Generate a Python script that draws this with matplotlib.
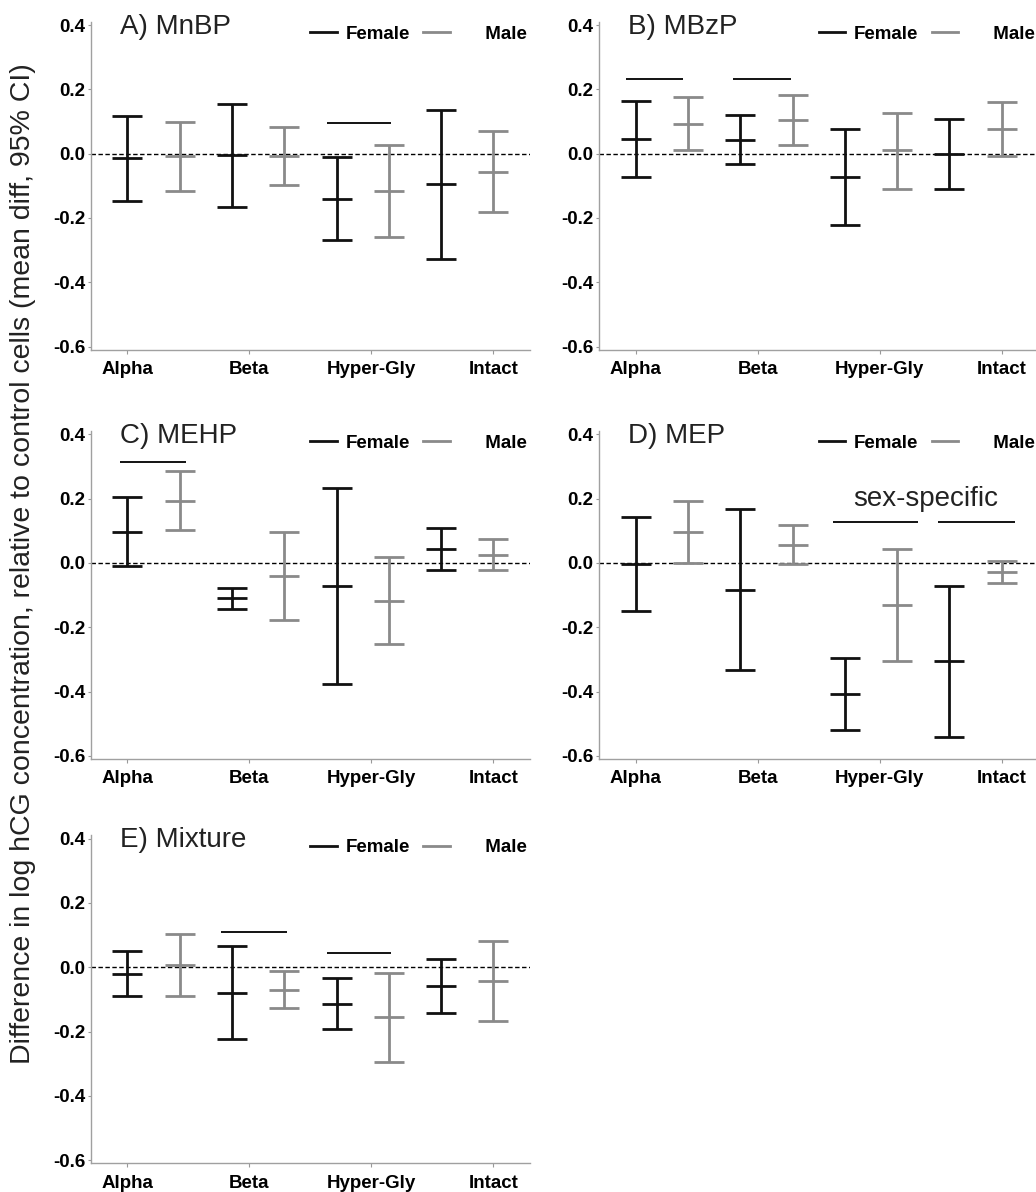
import numpy as np
import matplotlib.pyplot as plt
from matplotlib.lines import Line2D

plt.rcParams['font.family'] = ['Liberation Sans', 'DejaVu Sans']

groups = ['Alpha', 'Beta', 'Hyper-Gly', 'Intact']
sexes = ['Female', 'Male']
colores = ['#111111', '#8a8a8a']
titulos = ['A) MnBP', 'B) MBzP', 'C) MEHP', 'D) MEP', 'E) Mixture']

# ordem: Alpha F, Alpha M, Beta F, Beta M, Hyper F, Hyper M, Intact F, Intact M
mnbp_mean = [-0.015, -0.007, -0.003, -0.006, -0.141, -0.115, -0.095, -0.056]
mnbp_lo = [-0.147, -0.117, -0.166, -0.096, -0.268, -0.258, -0.326, -0.181]
mnbp_hi = [0.118, 0.100, 0.155, 0.084, -0.010, 0.027, 0.135, 0.070]

mbzp_mean = [0.046, 0.093, 0.044, 0.104, -0.074, 0.010, -0.002, 0.077]
mbzp_lo = [-0.073, 0.010, -0.031, 0.026, -0.222, -0.110, -0.109, -0.006]
mbzp_hi = [0.164, 0.176, 0.119, 0.181, 0.077, 0.128, 0.107, 0.160]

mehp_mean = [0.097, 0.193, -0.110, -0.042, -0.073, -0.117, 0.042, 0.026]
mehp_lo = [-0.010, 0.101, -0.142, -0.179, -0.378, -0.251, -0.022, -0.022]
mehp_hi = [0.205, 0.286, -0.078, 0.095, 0.232, 0.017, 0.107, 0.073]

mep_mean = [-0.003, 0.095, -0.083, 0.057, -0.408, -0.130, -0.306, -0.027]
mep_lo = [-0.150, -0.001, -0.333, -0.004, -0.521, -0.304, -0.541, -0.062]
mep_hi = [0.144, 0.193, 0.169, 0.118, -0.295, 0.044, -0.072, 0.007]

mix_mean = [-0.021, 0.008, -0.079, -0.070, -0.113, -0.156, -0.059, -0.043]
mix_lo = [-0.091, -0.089, -0.224, -0.127, -0.192, -0.294, -0.143, -0.167]
mix_hi = [0.049, 0.104, 0.066, -0.012, -0.034, -0.017, 0.024, 0.082]

# linhas de significancia: (inicio, fim, altura)
mnbp_sig = [(3.81, 5.05, 0.094)]
mbzp_sig = [(-0.18, 0.90, 0.233), (1.87, 2.97, 0.233)]
mehp_sig = [(-0.14, 1.12, 0.314)]
mep_sig = [(3.78, 5.40, 0.126), (5.78, 7.25, 0.126)]
mix_sig = [(1.80, 3.06, 0.110), (3.81, 5.05, 0.044)]

paineis = [
    (mnbp_mean, mnbp_lo, mnbp_hi, mnbp_sig),
    (mbzp_mean, mbzp_lo, mbzp_hi, mbzp_sig),
    (mehp_mean, mehp_lo, mehp_hi, mehp_sig),
    (mep_mean, mep_lo, mep_hi, mep_sig),
    (mix_mean, mix_lo, mix_hi, mix_sig),
]

# posicao dos eixos em fracao da figura (esquerda, baixo)
posicoes = [(0.0876, 0.7065), (0.5782, 0.7065),
            (0.0876, 0.3632), (0.5782, 0.3632),
            (0.0876, 0.0240)]
largura, altura = 0.424, 0.2752

fig = plt.figure(figsize=(10.36, 11.92), dpi=100)

for i, (media, lo, hi, sig) in enumerate(paineis):
    ax = fig.add_axes([posicoes[i][0], posicoes[i][1], largura, altura])
    media = np.array(media)
    lo = np.array(lo)
    hi = np.array(hi)
    x = np.arange(len(media))

    ax.axhline(0, color='black', lw=1.0, ls=(0, (3.2, 1.8)), zorder=1)

    for s in range(2):
        ax.errorbar(x[s::2], media[s::2],
                    yerr=[media[s::2] - lo[s::2], hi[s::2] - media[s::2]],
                    fmt='_', ms=21.6, mew=2, capsize=10.8, capthick=2,
                    elinewidth=2, color=colores[s], zorder=2)

    for x0, x1, y in sig:
        ax.hlines(y, x0, x1, color='black', lw=1.3)

    if i == 3:
        ax.text(5.54, 0.199, 'sex-specific', fontsize=20, ha='center',
                va='center', color='#222222')

    ax.set_xlim(-0.7, 7.7)
    ax.set_ylim(-0.61, 0.41)
    ax.set_xticks(np.linspace(0, 7, 4))
    ax.set_xticklabels(groups)
    ax.set_yticks([-0.6, -0.4, -0.2, 0.0, 0.2, 0.4])
    ax.set_yticklabels(['-0.6', '-0.4', '-0.2', '0.0', '0.2', '0.4'])
    for lbl in ax.get_xticklabels() + ax.get_yticklabels():
        lbl.set_fontweight('bold')
        lbl.set_fontsize(13.5)
    ax.tick_params(axis='x', length=3, color='#999999', pad=5)
    ax.tick_params(axis='y', length=2.5, color='#999999', pad=1.5)
    for lado in ['top', 'right']:
        ax.spines[lado].set_visible(False)
    for lado in ['left', 'bottom']:
        ax.spines[lado].set_color('#a0a0a0')
        ax.spines[lado].set_linewidth(1.0)

    ax.text(0.067, 0.985, titulos[i], transform=ax.transAxes, fontsize=20,
            ha='left', va='center', color='#222222')

    handles = [Line2D([], [], color=colores[0], lw=2),
               Line2D([], [], color=colores[1], lw=2)]
    ax.legend(handles, ['Female', '     Male'], ncol=2, frameon=False,
              loc='center right', bbox_to_anchor=(0.993, 0.962),
              prop={'weight': 'bold', 'size': 13.5}, handlelength=1.4,
              handletextpad=0.5, columnspacing=0.7, borderaxespad=0,
              borderpad=0)

fig.text(0.022, 0.527,
         'Difference in log hCG concentration, relative to control cells (mean diff, 95% CI)',
         rotation=90, ha='center', va='center', fontsize=20.5, color='#222222')

fig.savefig('out.png', dpi=100)
